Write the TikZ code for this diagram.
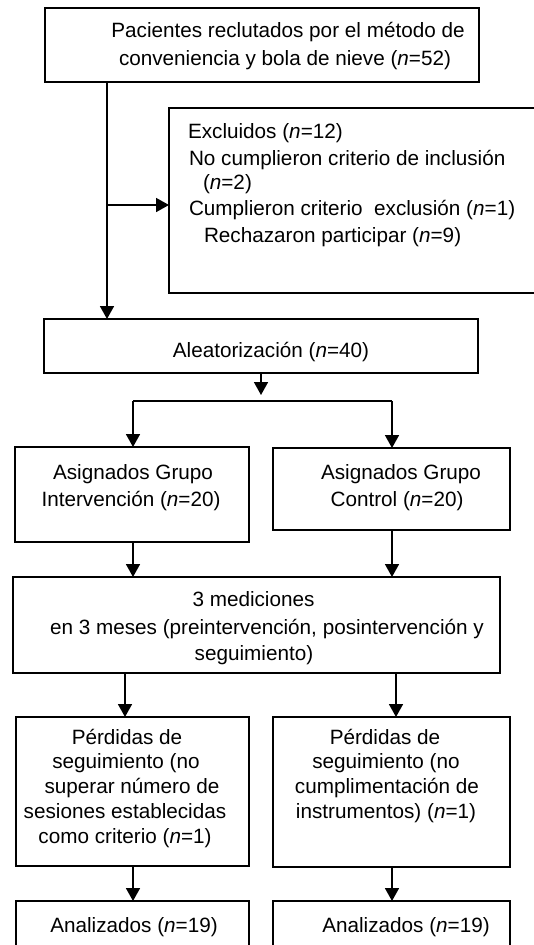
\documentclass[tikz,border=0pt]{standalone}
\usepackage{fontspec}
\setmainfont{Liberation Sans}
\usetikzlibrary{arrows.meta,fit}
\tikzset{
  box/.style={draw, line width=1.7pt, inner sep=0pt, outer sep=0pt},
  txt/.style={inner sep=0pt, outer sep=0pt, font=\fontsize{20.7}{25}\selectfont, anchor=base},
  ltxt/.style={txt, anchor=base west},
  arr/.style={line width=1.7pt, -{Triangle[length=13pt,width=14pt]}},
  ln/.style={line width=1.7pt}
}
\begin{document}
\begin{tikzpicture}[x=1pt,y=-1pt]
\useasboundingbox (0,0) rectangle (534,945);
\clip (0,0) rectangle (534,945);
% boxes
\node[box, fit={(45,8) (479,82)}] (top) {};
\node[box, fit={(169,108) (570,293)}] (excl) {};
\node[box, fit={(44,319) (478,373)}] (aleat) {};
\node[box, fit={(15,447) (249,542)}] (asigI) {};
\node[box, fit={(273,448) (510,530)}] (asigC) {};
\node[box, fit={(13,577) (500,673)}] (med) {};
\node[box, fit={(16,717) (249,866)}] (perdI) {};
\node[box, fit={(273,717) (510,867)}] (perdC) {};
\node[box, fit={(16,901) (249,970)}] (anaI) {};
\node[box, fit={(273,901) (510,970)}] (anaC) {};
% texts
\node[txt] (t1) at (288,37.7) {Pacientes reclutados por el método de};
\node[txt] (t2) at (285,65) {conveniencia y bola de nieve (\textit{n}=52)};
\node[ltxt] (e1) at (188,138) {Excluidos (\textit{n}=12)};
\node[ltxt] (e2) at (189,165) {No cumplieron criterio de inclusión};
\node[ltxt] (e3) at (203,189) {(\textit{n}=2)};
\node[ltxt] (e4) at (189,215.7) {Cumplieron criterio\ \ exclusión (\textit{n}=1)};
\node[ltxt] (e5) at (204,242.3) {Rechazaron participar (\textit{n}=9)};
\node[txt] (a1) at (271,357.7) {Aleatorización (\textit{n}=40)};
\node[txt] (g1) at (133,479.3) {Asignados Grupo};
\node[txt] (g2) at (131,506.7) {Intervención (\textit{n}=20)};
\node[txt] (c1) at (401,479.3) {Asignados Grupo};
\node[txt] (c2) at (397,506.7) {Control (\textit{n}=20)};
\node[txt] (m1) at (253.5,606.7) {3 mediciones};
\node[txt] (m2) at (267,634) {en 3 meses (preintervención, posintervención y};
\node[txt] (m3) at (254,660) {seguimiento)};
\node[txt] (p1) at (127,744) {Pérdidas de};
\node[txt] (p2) at (126,768) {seguimiento (no};
\node[txt] (p3) at (132,793) {superar número de};
\node[txt] (p4) at (125,818) {sesiones establecidas};
\node[txt] (p5) at (125,843) {como criterio (\textit{n}=1)};
\node[txt] (q1) at (385,744) {Pérdidas de};
\node[txt] (q2) at (386,768) {seguimiento (no};
\node[txt] (q3) at (387,793) {cumplimentación de};
\node[txt] (q4) at (386,818) {instrumentos) (\textit{n}=1)};
\node[txt] (n1) at (134,932) {Analizados (\textit{n}=19)};
\node[txt] (n2) at (406,932) {Analizados (\textit{n}=19)};
% helper coordinates
\coordinate (xa) at (107,0);
\coordinate (b1) at (107,205);
\coordinate (xm) at (261,0);
\coordinate (am) at (261,395);
\coordinate (hl) at (133,401);
\coordinate (hr) at (392,401);
\coordinate (xl) at (133,0);
\coordinate (xr) at (392,0);
\coordinate (xl2) at (125,0);
\coordinate (xr2) at (396,0);
% connectors
\draw[arr] (xa |- top.south) -- (xa |- aleat.north);
\draw[arr] (b1) -- (b1 -| excl.west);
\draw[arr] (xm |- aleat.south) -- (am);
\draw[ln] (hl) -- (hr);
\draw[arr] (hl) -- (hl |- asigI.north);
\draw[arr] (hr) -- (hr |- asigC.north);
\draw[arr] (xl |- asigI.south) -- (xl |- med.north);
\draw[arr] (xr |- asigC.south) -- (xr |- med.north);
\draw[arr] (xl2 |- med.south) -- (xl2 |- perdI.north);
\draw[arr] (xr2 |- med.south) -- (xr2 |- perdC.north);
\draw[arr] (xl |- perdI.south) -- (xl |- anaI.north);
\draw[arr] (xr |- perdC.south) -- (xr |- anaC.north);
\end{tikzpicture}
\end{document}
